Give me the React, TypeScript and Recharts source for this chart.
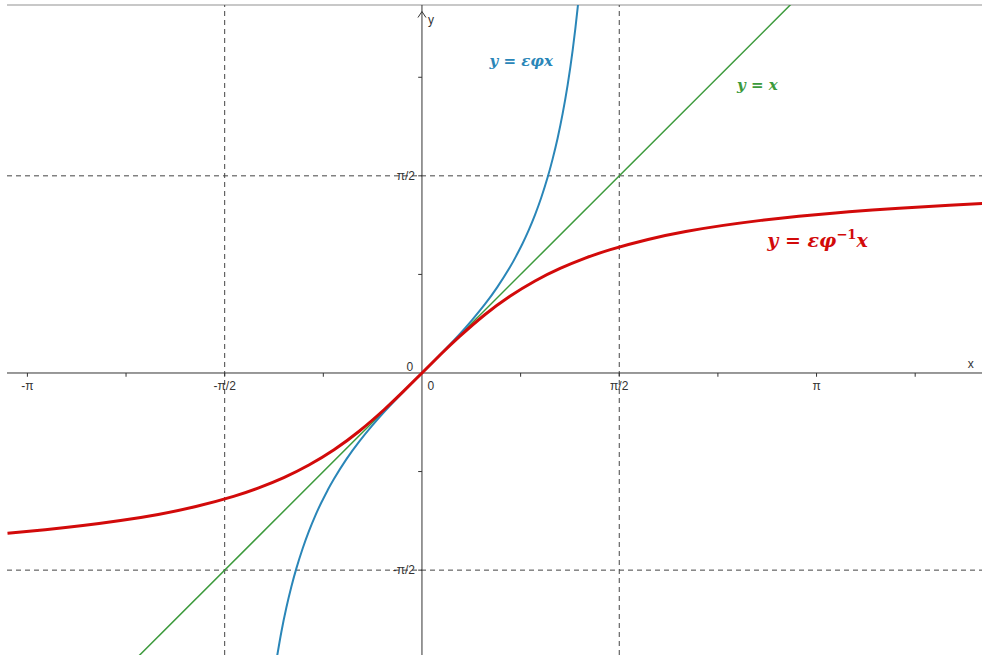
import { LineChart, Line, XAxis, YAxis, ReferenceLine, ReferenceDot } from 'recharts';

const PI = Math.PI;

// axis window (data units)
const xDomain = [-3.304, 4.459];
const yDomain = [-2.247, 2.932];

// y = εφx
const tanX = [-1.16, -1.12, -1.08, -1.04, -1.0, -0.95, -0.9, -0.85, -0.8, -0.75, -0.7, -0.6, -0.5, -0.4, -0.3, -0.2, -0.1, 0, 0.1, 0.2, 0.3, 0.4, 0.5, 0.6, 0.7, 0.75, 0.8, 0.85, 0.9, 0.95, 1.0, 1.04, 1.08, 1.12, 1.16, 1.2, 1.24, 1.27];
const tanY = [-2.296, -2.066, -1.871, -1.704, -1.557, -1.398, -1.26, -1.138, -1.03, -0.932, -0.842, -0.684, -0.546, -0.423, -0.309, -0.203, -0.1, 0, 0.1, 0.203, 0.309, 0.423, 0.546, 0.684, 0.842, 0.932, 1.03, 1.138, 1.26, 1.398, 1.557, 1.704, 1.871, 2.066, 2.296, 2.572, 2.913, 3.224];

// y = εφ^-1 x
const atanX = [-3.3, -3.0, -2.7, -2.4, -2.1, -1.8, -1.5, -1.3, -1.1, -0.9, -0.7, -0.5, -0.3, -0.15, 0, 0.15, 0.3, 0.5, 0.7, 0.9, 1.1, 1.3, 1.5, 1.8, 2.1, 2.4, 2.7, 3.0, 3.4, 3.8, 4.2, 4.46];
const atanY = [-1.277, -1.249, -1.216, -1.176, -1.127, -1.064, -0.983, -0.915, -0.833, -0.733, -0.611, -0.464, -0.291, -0.149, 0, 0.149, 0.291, 0.464, 0.611, 0.733, 0.833, 0.915, 0.983, 1.064, 1.127, 1.176, 1.216, 1.249, 1.284, 1.313, 1.337, 1.351];

// y = x
const idX = [-2.3, 3.0];
const idY = [-2.3, 3.0];

const xTicks = [-PI, -3 * PI / 4, -PI / 2, -PI / 4, PI / 4, PI / 2, 3 * PI / 4, PI, 5 * PI / 4];
const yTicks = [-PI / 2, -PI / 4, PI / 4, PI / 2, 3 * PI / 4];
const xTickLabels = [
  { v: -PI, text: '-π' },
  { v: -PI / 2, text: '-π/2' },
  { v: PI / 2, text: 'π/2' },
  { v: PI, text: 'π' },
];
const yTickLabels = [
  { v: PI / 2, text: 'π/2' },
  { v: -PI / 2, text: '-π/2' },
];
const gridLines = [-PI / 2, PI / 2];

const tanData = tanX.map((x, i) => ({ x, y: tanY[i] }));
const atanData = atanX.map((x, i) => ({ x, y: atanY[i] }));
const idData = idX.map((x, i) => ({ x, y: idY[i] }));

const AXIS = '#333';
const TICK_FONT = { fontFamily: 'Liberation Sans, Arial, sans-serif', fontSize: 12, fill: '#333' };
const MATH_FONT = 'DejaVu Serif, serif';

function textAt(text: string, dx: number, dy: number, anchor: string) {
  return (props: any) => {
    const { viewBox } = props;
    return (
      <text x={viewBox.x + dx} y={viewBox.y + dy} textAnchor={anchor} {...TICK_FONT}>
        {text}
      </text>
    );
  };
}

function formula(color: string, size: number, parts: { main: string; sup?: string; tail?: string }) {
  return (props: any) => {
    const { viewBox } = props;
    return (
      <text
        x={viewBox.x}
        y={viewBox.y}
        textAnchor="middle"
        dominantBaseline="middle"
        fill={color}
        fontFamily={MATH_FONT}
        fontStyle="italic"
        fontWeight="bold"
        fontSize={size}
      >
        {parts.main}
        {parts.sup && (
          <tspan dy={-size * 0.4} fontSize={size * 0.7} fontStyle="normal">
            {parts.sup}
          </tspan>
        )}
        {parts.tail && <tspan dy={parts.sup ? size * 0.4 : 0}>{parts.tail}</tspan>}
      </text>
    );
  };
}

const arrowUp = (props: any) => {
  const { cx, cy } = props;
  return <path d={`M${cx - 4},${cy + 6} L${cx},${cy} L${cx + 4},${cy + 6}`} stroke={AXIS} strokeWidth={1} fill="none" />;
};

export default function App() {
  return (
    <div style={{ position: 'absolute', left: 0, top: 0, background: '#fff' }}>
      <LineChart width={982} height={655} margin={{ top: 5, right: 0, bottom: 0, left: 7 }}>
        <XAxis type="number" dataKey="x" domain={xDomain} allowDataOverflow hide />
        <YAxis type="number" dataKey="y" domain={yDomain} allowDataOverflow hide />

        {/* frame line at top */}
        <ReferenceLine y={yDomain[1]} stroke="#c8c8c8" strokeWidth={2} />

        {/* dashed grid at ±π/2 */}
        {gridLines.map((v) => (
          <ReferenceLine key={`gx${v}`} x={v} stroke="#444" strokeDasharray="5 4" />
        ))}
        {gridLines.map((v) => (
          <ReferenceLine key={`gy${v}`} y={v} stroke="#444" strokeDasharray="5 4" />
        ))}

        {/* axes */}
        <ReferenceLine x={0} stroke={AXIS} strokeWidth={1} />
        <ReferenceLine y={0} stroke={AXIS} strokeWidth={1} />
        <ReferenceDot x={0} y={2.88} r={0} shape={arrowUp} ifOverflow="visible" />

        {xTicks.map((v) => (
          <ReferenceLine key={`tx${v}`} segment={[{ x: v, y: 0 }, { x: v, y: -0.03 }]} stroke={AXIS} />
        ))}
        {yTicks.map((v) => (
          <ReferenceLine key={`ty${v}`} segment={[{ x: 0, y: v }, { x: -0.03, y: v }]} stroke={AXIS} />
        ))}

        {xTickLabels.map((t) => (
          <ReferenceDot key={`lx${t.text}`} x={t.v} y={0} r={0} fill="none" stroke="none" label={{ content: textAt(t.text, 0, 17, 'middle') }} />
        ))}
        {yTickLabels.map((t) => (
          <ReferenceDot key={`ly${t.text}`} x={0} y={t.v} r={0} fill="none" stroke="none" label={{ content: textAt(t.text, -7, 4, 'end') }} />
        ))}
        <ReferenceDot x={0} y={0} r={0} fill="none" stroke="none" label={{ content: textAt('0', 9, 17, 'middle') }} />
        <ReferenceDot x={0} y={0} r={0} fill="none" stroke="none" label={{ content: textAt('0', -12, -2, 'middle') }} />
        <ReferenceDot x={4.37} y={0} r={0} fill="none" stroke="none" label={{ content: textAt('x', 0, -5, 'middle') }} />
        <ReferenceDot x={0} y={2.81} r={0} fill="none" stroke="none" label={{ content: textAt('y', 9, 4, 'middle') }} />

        <Line data={idData} type="linear" dataKey="y" stroke="#3c9a3c" strokeWidth={1.5} dot={false} isAnimationActive={false} />
        <Line data={tanData} type="natural" dataKey="y" stroke="#2a86b8" strokeWidth={2} dot={false} isAnimationActive={false} />
        <Line data={atanData} type="natural" dataKey="y" stroke="#d20a0a" strokeWidth={3} dot={false} isAnimationActive={false} />

        <ReferenceDot x={0.79} y={2.48} r={0} fill="none" stroke="none" label={{ content: formula('#2a86b8', 15, { main: 'y = εφx' }) }} />
        <ReferenceDot x={2.67} y={2.29} r={0} fill="none" stroke="none" label={{ content: formula('#3c9a3c', 15, { main: 'y = x' }) }} />
        <ReferenceDot x={3.15} y={1.04} r={0} fill="none" stroke="none" label={{ content: formula('#d20a0a', 19, { main: 'y = εφ', sup: '−1', tail: 'x' }) }} />
      </LineChart>
    </div>
  );
}
